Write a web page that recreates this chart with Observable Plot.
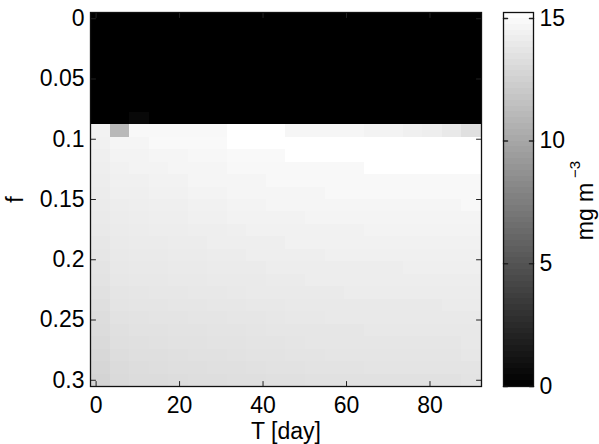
<!DOCTYPE html>
<html><head><meta charset="utf-8">
<script src="https://cdn.jsdelivr.net/npm/d3@7"></script>
<script src="https://cdn.jsdelivr.net/npm/@observablehq/plot@0.6"></script>
<style>
html,body{margin:0;padding:0;background:#fff;}
#chart{position:relative;width:599px;height:444px;}
#chart svg{position:absolute;left:0;top:0;}
</style></head><body><div id="chart"></div>
<script>
// ---- data ----
const T = [1, 5.68, 10.37, 15.05, 19.74, 24.42, 29.11, 33.79, 38.47, 43.16, 47.84, 52.53, 57.21, 61.89, 66.58, 71.26, 75.95, 80.63, 85.32, 90];
const f = [0, 0.0103, 0.0207, 0.031, 0.0414, 0.0517, 0.0621, 0.0724, 0.0828, 0.0931, 0.1034, 0.1138, 0.1241, 0.1345, 0.1448, 0.1552, 0.1655, 0.1759, 0.1862, 0.1966, 0.2069, 0.2172, 0.2276, 0.2379, 0.2483, 0.2586, 0.269, 0.2793, 0.2897, 0.3];
const conc = [
[0,0,0,0,0,0,0,0,0,0,0,0,0,0,0,0,0,0,0,0],
[0,0,0,0,0,0,0,0,0,0,0,0,0,0,0,0,0,0,0,0],
[0,0,0,0,0,0,0,0,0,0,0,0,0,0,0,0,0,0,0,0],
[0,0,0,0,0,0,0,0,0,0,0,0,0,0,0,0,0,0,0,0],
[0,0,0,0,0,0,0,0,0,0,0,0,0,0,0,0,0,0,0,0],
[0,0,0,0,0,0,0,0,0,0,0,0,0,0,0,0,0,0,0,0],
[0,0,0,0,0,0,0,0,0,0,0,0,0,0,0,0,0,0,0,0],
[0,0,0,0,0,0,0,0,0,0,0,0,0,0,0,0,0,0,0,0],
[0,0,0.5,0,0,0,0,0,0,0,0,0,0,0,0,0,0,0,0,0],
[14.46,11.06,14.82,14.82,14.82,14.82,14.82,15.24,15.24,15.24,14.70,14.70,14.70,14.70,14.52,14.52,14.34,14.22,13.92,13.39],
[14.40,14.64,14.64,14.88,14.88,14.88,14.88,15.24,15.24,15.24,15.24,15.24,15.24,15.24,15.24,15.24,15.24,15.24,15.24,15.24],
[14.28,14.52,14.52,14.64,14.64,14.76,14.76,14.88,14.88,14.88,15.24,15.24,15.24,15.24,15.24,15.24,15.24,15.24,15.24,15.24],
[14.22,14.40,14.52,14.52,14.64,14.64,14.64,14.82,14.82,14.82,14.82,14.82,14.82,14.82,15.24,15.24,15.24,15.24,15.24,15.24],
[14.16,14.34,14.34,14.46,14.46,14.64,14.64,14.64,14.64,14.82,14.82,14.82,14.82,14.82,14.82,14.82,14.82,14.82,14.82,14.82],
[14.10,14.28,14.28,14.40,14.40,14.52,14.52,14.64,14.64,14.64,14.64,14.64,14.82,14.82,14.82,14.82,14.82,14.82,14.82,14.82],
[14.04,14.16,14.22,14.28,14.28,14.40,14.40,14.52,14.52,14.64,14.64,14.64,14.64,14.64,14.64,14.64,14.64,14.64,14.64,14.82],
[13.98,14.10,14.16,14.22,14.22,14.34,14.34,14.46,14.46,14.46,14.46,14.58,14.58,14.58,14.58,14.58,14.58,14.58,14.58,14.58],
[13.92,14.04,14.10,14.16,14.16,14.22,14.22,14.28,14.40,14.40,14.40,14.40,14.40,14.40,14.52,14.52,14.52,14.52,14.52,14.52],
[13.81,13.98,14.04,14.04,14.10,14.10,14.22,14.22,14.22,14.22,14.40,14.40,14.40,14.40,14.40,14.40,14.40,14.40,14.40,14.40],
[13.75,13.92,13.98,13.98,14.04,14.04,14.10,14.10,14.22,14.22,14.22,14.22,14.34,14.34,14.34,14.34,14.34,14.34,14.34,14.34],
[13.63,13.87,13.92,13.92,13.98,13.98,14.04,14.04,14.04,14.16,14.16,14.16,14.16,14.16,14.16,14.16,14.28,14.28,14.28,14.28],
[13.57,13.81,13.87,13.87,13.92,13.92,13.98,13.98,13.98,14.04,14.04,14.16,14.16,14.16,14.16,14.16,14.16,14.16,14.16,14.16],
[13.45,13.69,13.75,13.81,13.81,13.87,13.87,13.92,13.98,13.98,13.98,13.98,13.98,14.10,14.10,14.10,14.10,14.10,14.10,14.10],
[13.33,13.63,13.69,13.69,13.75,13.75,13.81,13.81,13.87,13.87,13.92,13.92,13.92,13.92,13.92,13.92,13.92,13.92,14.04,14.04],
[13.21,13.51,13.57,13.63,13.63,13.69,13.69,13.75,13.75,13.81,13.87,13.87,13.92,13.92,13.92,13.92,13.92,13.92,13.92,13.92],
[13.15,13.39,13.51,13.51,13.57,13.57,13.63,13.63,13.69,13.75,13.75,13.75,13.75,13.75,13.87,13.87,13.87,13.87,13.87,13.87],
[13.03,13.33,13.39,13.45,13.51,13.51,13.57,13.57,13.63,13.63,13.69,13.75,13.75,13.75,13.75,13.75,13.75,13.75,13.75,13.87],
[12.91,13.21,13.33,13.33,13.39,13.45,13.45,13.51,13.57,13.57,13.63,13.63,13.69,13.69,13.69,13.69,13.69,13.69,13.69,13.81],
[12.79,13.09,13.21,13.27,13.33,13.33,13.39,13.39,13.45,13.51,13.51,13.57,13.57,13.57,13.63,13.63,13.63,13.63,13.63,13.63],
[12.67,13.03,13.15,13.15,13.21,13.27,13.27,13.33,13.33,13.39,13.39,13.45,13.45,13.45,13.45,13.45,13.45,13.45,13.45,13.57]
];
const xTicks = [0, 20, 40, 60, 80];
const xTickLabels = ["0", "20", "40", "60", "80"];
const yTicks = [0, 0.05, 0.1, 0.15, 0.2, 0.25, 0.3];
const yTickLabels = ["0", "0.05", "0.1", "0.15", "0.2", "0.25", "0.3"];
const cTicks = [0, 5, 10, 15];
const cTickLabels = ["0", "5", "10", "15"];
const cMin = 0, cMax = 15.24;
const xLabel = "T [day]";
const yLabel = "f";
const cLabel = "mg m";
const cLabelSup = "\u22123";

// ---- build ----
const FONT = '"Liberation Sans", Arial, Helvetica, sans-serif';
const FS = 23;
const dT = (T[T.length - 1] - T[0]) / (T.length - 1);
const df = (f[f.length - 1] - f[0]) / (f.length - 1);
const cells = [];
f.forEach((fv, i) => T.forEach((tv, j) => cells.push({
  x1: tv - dT / 2, x2: tv + dT / 2, y1: fv - df / 2, y2: fv + df / 2, v: conc[i][j]
})));
const xDom = [T[0] - dT / 2, T[T.length - 1] + dT / 2];
const yDom = [f[0] - df / 2, f[f.length - 1] + df / 2];
const tickShape = {draw(ctx, l) { ctx.moveTo(0, 0); ctx.lineTo(0, -l); }};
const colorOpt = {type: "linear", domain: [cMin, cMax], range: ["#000000", "#ffffff"], interpolate: "rgb"};
const style = {fontFamily: FONT, fontSize: FS + "px", color: "#000", background: "transparent", overflow: "visible"};

const main = Plot.plot({
  width: 599, height: 444,
  marginLeft: 90, marginRight: 118, marginTop: 12, marginBottom: 58,
  style,
  x: {domain: xDom},
  y: {domain: yDom, reverse: true},
  color: colorOpt,
  marks: [
    Plot.rect(cells, {x1: "x1", x2: "x2", y1: "y1", y2: "y2", fill: "v", shapeRendering: "crispEdges"}),
    Plot.axisX(xTicks, {tickSize: 0, tickPadding: 10, tickFormat: d => xTickLabels[xTicks.indexOf(d)], label: null, fontSize: FS}),
    Plot.axisY(yTicks, {tickSize: 0, tickPadding: 6, tickFormat: d => yTickLabels[yTicks.indexOf(d)], label: null, fontSize: FS}),
    Plot.vector(xTicks, {x: d => d, y: () => yDom[1], length: 5, rotate: 0, anchor: "start", shape: tickShape, stroke: "#222", strokeWidth: 1}),
    Plot.vector(xTicks, {x: d => d, y: () => yDom[0], length: 5, rotate: 180, anchor: "start", shape: tickShape, stroke: "#222", strokeWidth: 1}),
    Plot.vector(yTicks, {y: d => d, x: () => xDom[0], length: 5, rotate: 90, anchor: "start", shape: tickShape, stroke: "#222", strokeWidth: 1}),
    Plot.vector(yTicks, {y: d => d, x: () => xDom[1], length: 5, rotate: -90, anchor: "start", shape: tickShape, stroke: "#222", strokeWidth: 1}),
    Plot.frame({stroke: "#111", strokeWidth: 1.3}),
    Plot.text([xLabel], {frameAnchor: "bottom", lineAnchor: "middle", textAnchor: "middle", dy: 45, fontSize: FS, fill: "#000"}),
    Plot.text([yLabel], {frameAnchor: "left", lineAnchor: "middle", textAnchor: "middle", dx: -75, rotate: -90, fontSize: FS, fill: "#000"})
  ]
});

const levels = d3.range(64).map(i => ({y1: cMin + i * (cMax - cMin) / 64, y2: cMin + (i + 1) * (cMax - cMin) / 64, v: cMin + (i + 0.5) * (cMax - cMin) / 64}));
const cbar = Plot.plot({
  width: 599, height: 444,
  marginLeft: 503, marginRight: 66, marginTop: 12, marginBottom: 58,
  style,
  x: {domain: [0, 1], axis: null},
  y: {domain: [cMin, cMax], axis: null},
  color: colorOpt,
  marks: [
    Plot.rect(levels, {x1: () => 0, x2: () => 1, y1: "y1", y2: "y2", fill: "v", shapeRendering: "crispEdges"}),
    Plot.axisY(cTicks, {anchor: "right", tickSize: 0, tickPadding: 6, tickFormat: d => cTickLabels[cTicks.indexOf(d)], label: null, fontSize: FS}),
    Plot.vector(cTicks, {y: d => d, x: () => 0, length: 4, rotate: 90, anchor: "start", shape: tickShape, stroke: "#222"}),
    Plot.vector(cTicks, {y: d => d, x: () => 1, length: 4, rotate: -90, anchor: "start", shape: tickShape, stroke: "#222"}),
    Plot.frame({stroke: "#111", strokeWidth: 1.3}),
    Plot.text([cLabel], {frameAnchor: "right", lineAnchor: "middle", textAnchor: "middle", dx: 52, dy: 12, rotate: -90, fontSize: FS, fill: "#000"}),
    Plot.text([cLabelSup], {frameAnchor: "right", lineAnchor: "middle", textAnchor: "middle", dx: 42, dy: -30, rotate: -90, fontSize: 15, fill: "#000"})
  ]
});

const chart = document.getElementById("chart");
chart.appendChild(main);
chart.appendChild(cbar);
</script>
</body></html>
